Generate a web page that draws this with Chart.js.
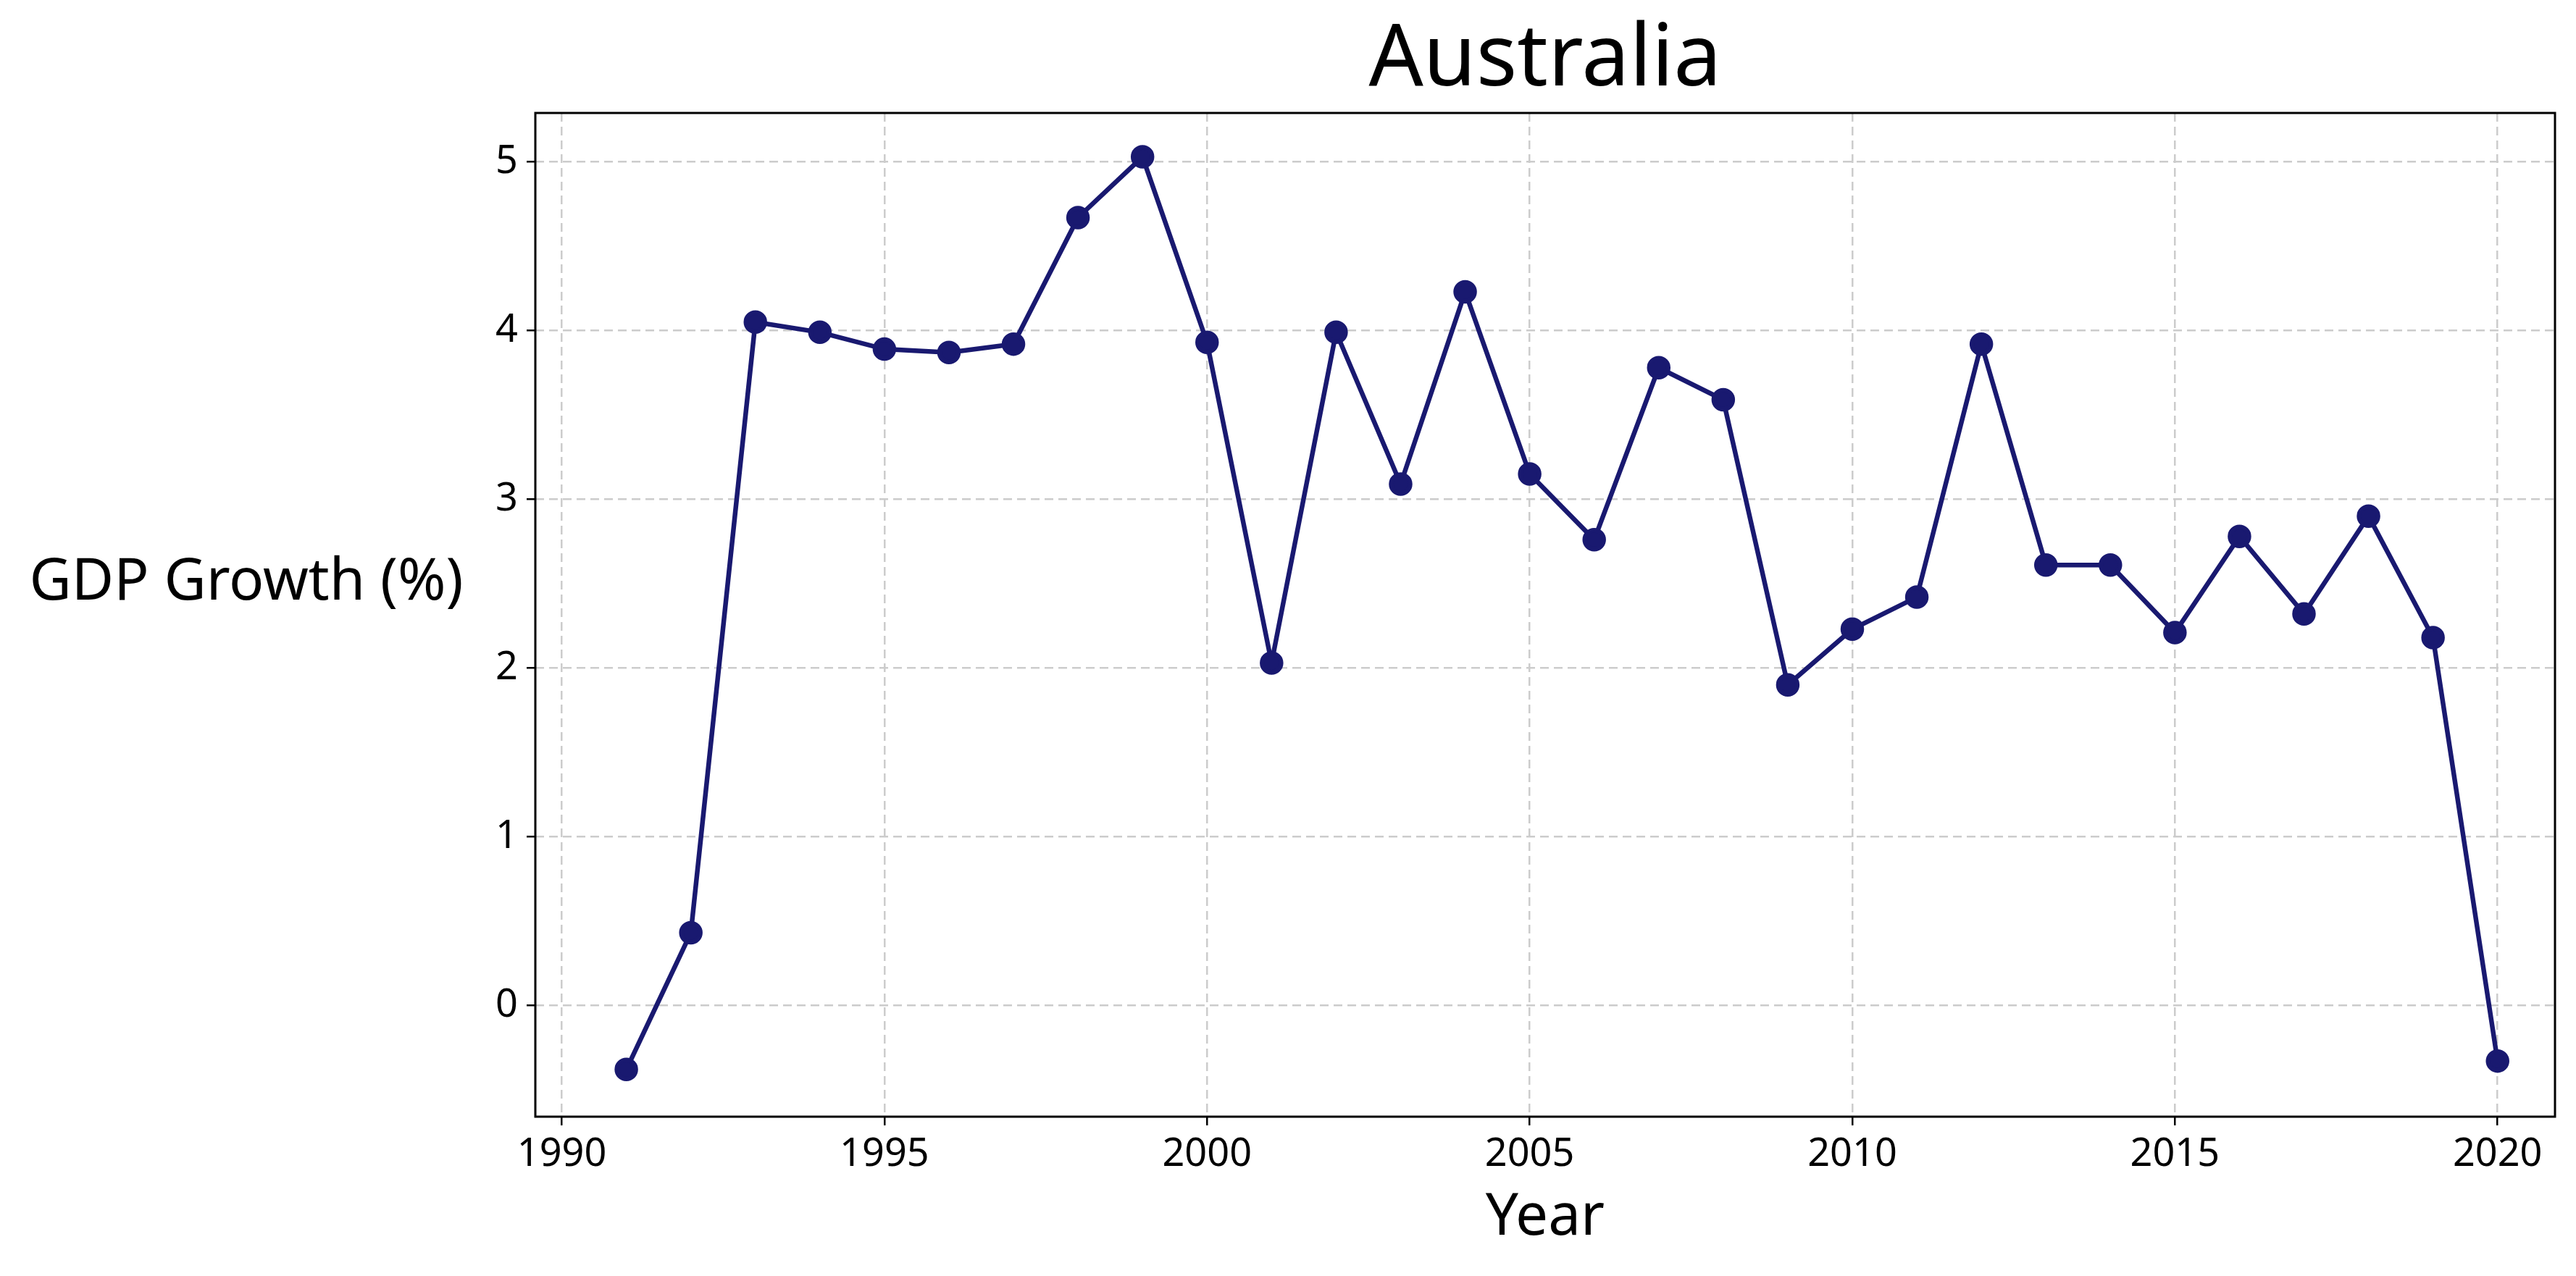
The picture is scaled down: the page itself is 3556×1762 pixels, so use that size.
<!DOCTYPE html>
<html><head><meta charset="utf-8">
<script src="https://cdn.jsdelivr.net/npm/chart.js@4"></script>
<style>html,body{margin:0;padding:0;background:#fff}#c{display:block}</style>
</head><body>
<canvas id="c" width="3556" height="1762"></canvas>
<script>
const years = [1991,1992,1993,1994,1995,1996,1997,1998,1999,2000,2001,2002,2003,2004,2005,2006,2007,2008,2009,2010,2011,2012,2013,2014,2015,2016,2017,2018,2019,2020];
const growth = [-0.38,0.43,4.05,3.99,3.89,3.87,3.92,4.67,5.03,3.93,2.03,3.99,3.09,4.23,3.15,2.76,3.78,3.59,1.90,2.23,2.42,3.92,2.61,2.61,2.21,2.78,2.32,2.90,2.18,-0.33];
const xTicks = [1990,1995,2000,2005,2010,2015,2020];
const yTicks = [0,1,2,3,4,5];
const FONT = '"Noto Sans", "Open Sans", sans-serif';

const textPlugin = {
  id: 'texts',
  afterDraw(chart) {
    const ctx = chart.ctx, a = chart.chartArea;
    ctx.save();
    ctx.fillStyle = '#000';
    ctx.textAlign = 'center';
    ctx.textBaseline = 'middle';
    ctx.font = '118px ' + FONT;
    ctx.fillText('Australia', (a.left + a.right) / 2, 84);
    ctx.font = '80px ' + FONT;
    ctx.fillText('Year', (a.left + a.right) / 2, 1682);
    ctx.font = '80px ' + FONT;
    ctx.fillText('GDP Growth (%)', 340, 805);
    ctx.strokeStyle = '#000';
    ctx.lineWidth = 3;
    ctx.strokeRect(a.left, a.top, a.right - a.left, a.bottom - a.top);
    ctx.restore();
  }
};

new Chart(document.getElementById('c'), {
  type: 'line',
  data: {
    datasets: [{
      data: years.map((y, i) => ({x: y, y: growth[i]})),
      borderColor: '#191970',
      backgroundColor: '#191970',
      borderWidth: 6.5,
      pointRadius: 13,
      pointHoverRadius: 13,
      tension: 0
    }]
  },
  options: {
    responsive: false,
    animation: false,
    layout: {padding: {top: 156, right: 29, left: 0, bottom: 0}},
    plugins: {legend: {display: false}, tooltip: {enabled: false}},
    scales: {
      x: {
        type: 'linear', min: 1989.59, max: 2020.89,
        afterBuildTicks: s => { s.ticks = xTicks.map(v => ({value: v})); },
        afterFit: s => { s.height = 220; },
        grid: {color: '#cccccc', lineWidth: 2.5, tickLength: 12, tickColor: '#000'},
        border: {dash: [12, 7], display: false},
        ticks: {color: '#000', font: {size: 54, family: FONT}, padding: 8, maxRotation: 0, callback: v => String(v)}
      },
      y: {
        min: -0.66, max: 5.29,
        afterBuildTicks: s => { s.ticks = yTicks.map(v => ({value: v})); },
        afterFit: s => { s.width = 739; },
        grid: {color: '#cccccc', lineWidth: 2.5, tickLength: 12, tickColor: '#000'},
        border: {dash: [12, 7], display: false},
        ticks: {color: '#000', font: {size: 54, family: FONT}, padding: 12, callback: v => String(v)}
      }
    }
  },
  plugins: [textPlugin]
});
</script>
</body></html>
